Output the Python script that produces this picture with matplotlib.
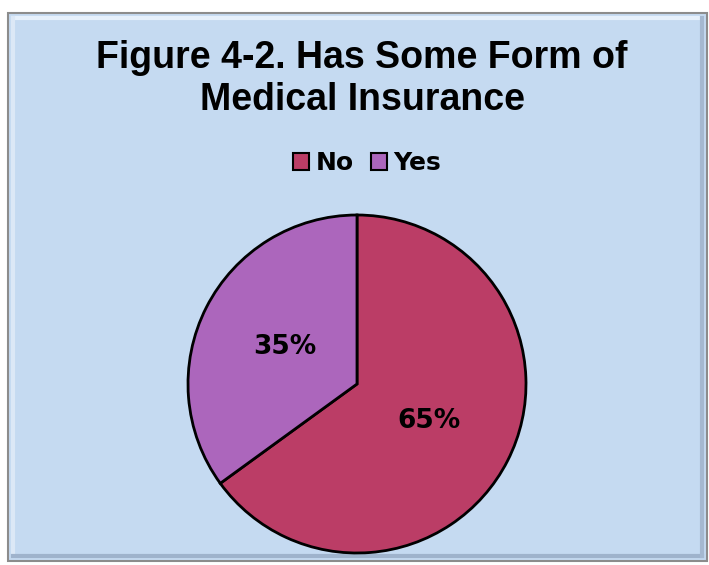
import matplotlib.pyplot as plt
from matplotlib.patches import Rectangle
from matplotlib.lines import Line2D
from matplotlib.font_manager import FontProperties

labels = ['No', 'Yes']
values = [65, 35]
colors = ['#BB3D66', '#AC66BC']
title = 'Figure 4-2. Has Some Form of\nMedical Insurance'

W, H = 709, 565
fig = plt.figure(figsize=(W / 100, H / 100), dpi=100)
fig.patch.set_facecolor('white')

# chart area frame with a bit of bevel
x0, y0, x1, y1 = 8 / W, 1 - 561 / H, 707 / W, 1 - 13 / H
fig.patches.append(Rectangle((x0, y0), x1 - x0, y1 - y0, transform=fig.transFigure,
                             facecolor='#C5DAF1', edgecolor='#8C8C8C', lw=1.5, zorder=-2))
bev = 5 / W
bevy = 5 / H
for xs, ys, c in [([x0 + bev, x1 - bev], [y1 - bevy, y1 - bevy], '#E6F0FB'),
                  ([x0 + bev, x0 + bev], [y0 + bevy, y1 - bevy], '#DCE8F6'),
                  ([x0 + bev, x1 - bev], [y0 + bevy, y0 + bevy], '#9FB3CC'),
                  ([x1 - bev, x1 - bev], [y0 + bevy, y1 - bevy], '#A5B8D0')]:
    fig.lines.append(Line2D(xs, ys, transform=fig.transFigure, color=c, lw=3, zorder=-1))

fig.text(362 / W, 1 - 79 / H, title, ha='center', va='center', fontsize=27,
         fontweight='bold', family='Liberation Sans', linespacing=1.25)

# pie
cx, cy, r = 357, 384, 169
ax = fig.add_axes([(cx - r) / W, 1 - (cy + r) / H, 2 * r / W, 2 * r / H])
ax.patch.set_visible(False)
wedges, _, autotexts = ax.pie(values, colors=colors, startangle=90, counterclock=False,
                              autopct='%1.0f%%', pctdistance=0.48,
                              wedgeprops=dict(edgecolor='black', linewidth=2),
                              textprops=dict(fontsize=19, fontweight='bold', family='DejaVu Sans'))
ax.set_xlim(-1, 1)
ax.set_ylim(-1, 1)
ax.set_aspect('equal')
ax.axis('off')

legfont = FontProperties(family='DejaVu Sans', weight='bold', size=18)
leg = fig.legend(wedges, labels, loc='center', bbox_to_anchor=(367 / W, 1 - 163 / H), ncol=2,
                 frameon=False, handlelength=0.65, handleheight=0.65, handletextpad=0.25,
                 columnspacing=0.7, prop=legfont)
for h in leg.legend_handles:
    h.set_linewidth(1.5)

fig.savefig('out.png', dpi=100, facecolor=fig.get_facecolor())
